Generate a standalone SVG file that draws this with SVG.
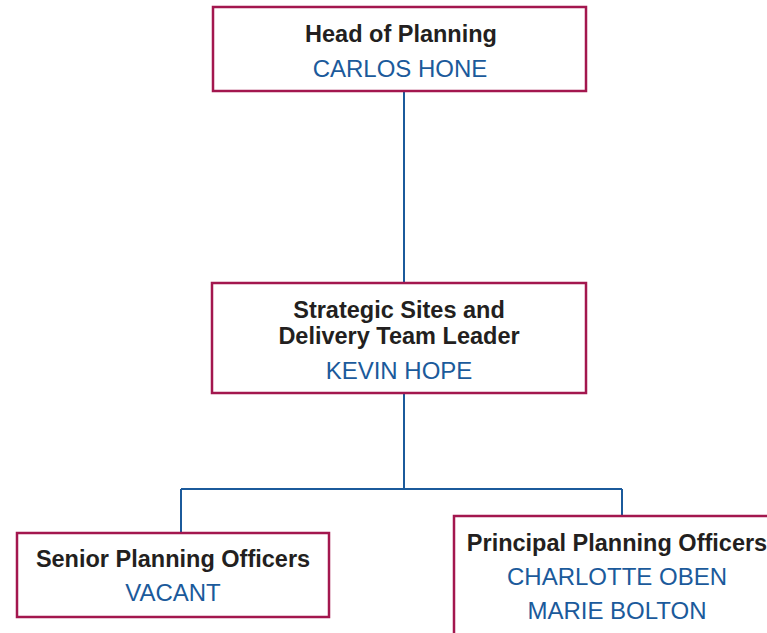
<svg xmlns="http://www.w3.org/2000/svg" width="767" height="633" viewBox="0 0 767 633">
<style>
.box{fill:#fff;stroke:#A3174E;stroke-width:2.5}
.t{font-family:"Liberation Sans",Arial,sans-serif;font-weight:bold;font-size:23.5px;fill:#231F20;text-anchor:middle}
.n{font-family:"Liberation Sans",Arial,sans-serif;font-size:24px;fill:#1B5A9B;text-anchor:middle}
.c{fill:none;stroke:#1B5A9B;stroke-width:2}
</style>
<rect width="767" height="633" fill="#fff"/>
<g id="connectors">
<path class="c" d="M404 91V284"/>
<path class="c" d="M404 393V489M181 489H622M181 489V533M622 489V516"/>
</g>
<g id="head">
<rect class="box" x="213" y="7" width="373" height="84"/>
<text class="t" x="401" y="42">Head of Planning</text>
<text class="n" x="400" y="77">CARLOS HONE</text>
</g>
<g id="leader">
<rect class="box" x="212" y="283" width="374" height="110"/>
<text class="t" x="399" y="318">Strategic Sites and</text>
<text class="t" x="399" y="344">Delivery Team Leader</text>
<text class="n" x="399" y="379">KEVIN HOPE</text>
</g>
<g id="senior">
<rect class="box" x="17" y="533" width="312" height="84"/>
<text class="t" x="173" y="567">Senior Planning Officers</text>
<text class="n" x="173" y="601">VACANT</text>
</g>
<g id="principal">
<rect class="box" x="454" y="516" width="330" height="140"/>
<text class="t" x="617" y="551">Principal Planning Officers</text>
<text class="n" x="617" y="585">CHARLOTTE OBEN</text>
<text class="n" x="617" y="619">MARIE BOLTON</text>
</g>
</svg>
